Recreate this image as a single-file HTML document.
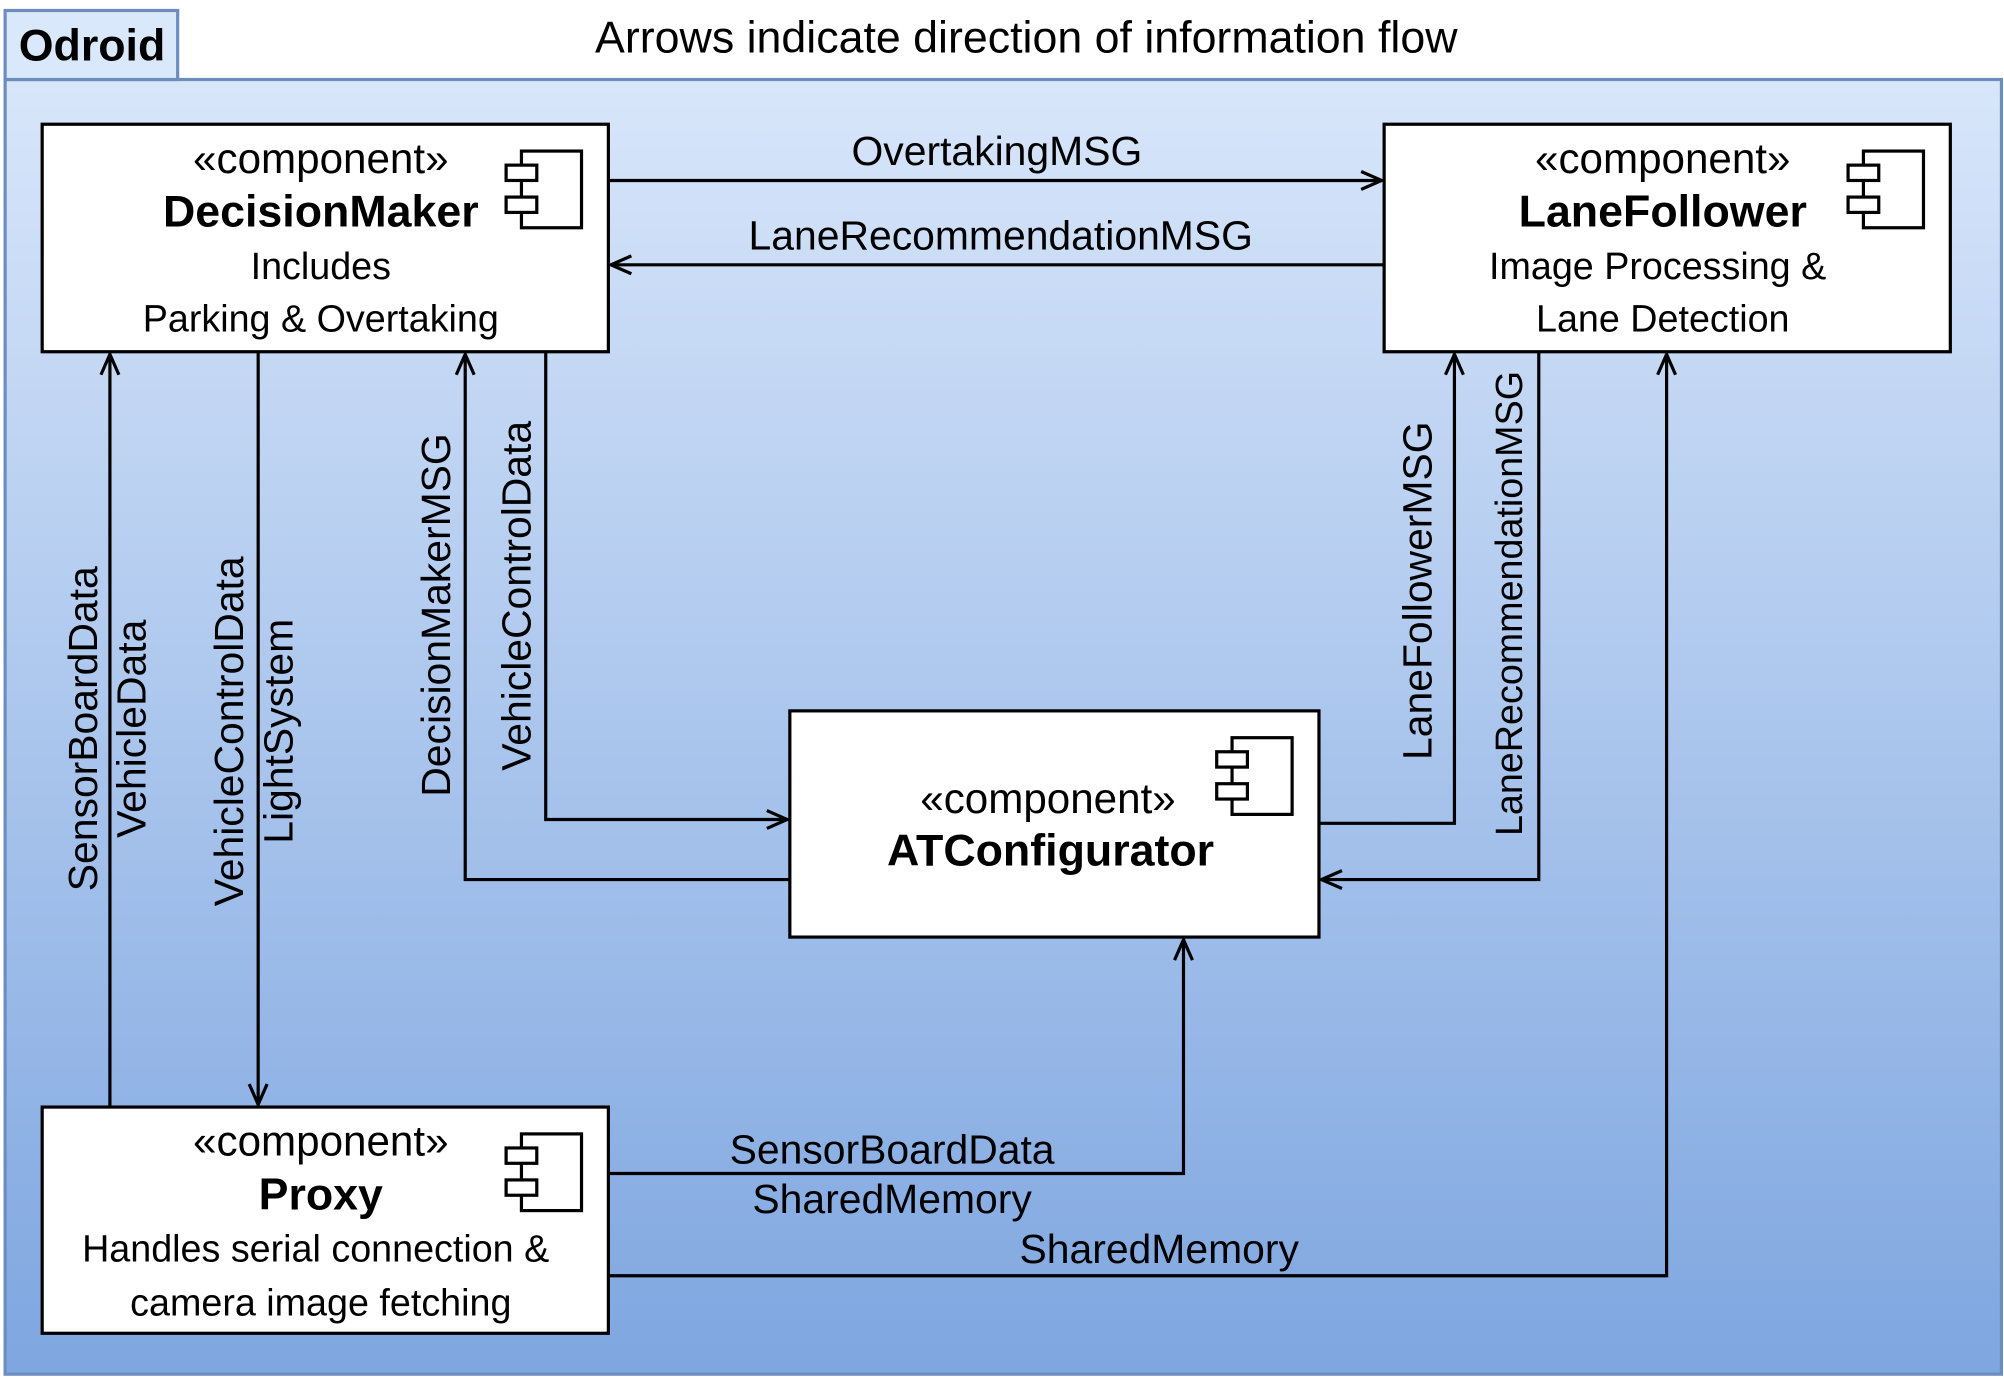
<!DOCTYPE html>
<html><head><meta charset="utf-8"><style>
html,body{margin:0;padding:0;background:#fff;}
svg{display:block;}
text{font-family:"Liberation Sans",sans-serif;fill:#000;}
</style></head><body>
<svg width="2004" height="1377" viewBox="0 0 1568 1077" xmlns="http://www.w3.org/2000/svg">
<defs>
<linearGradient id="g" x1="0" y1="0" x2="0" y2="1">
<stop offset="0" stop-color="#d8e6fa"/>
<stop offset="1" stop-color="#7ea6e0"/>
</linearGradient>
<marker id="a" markerWidth="20" markerHeight="20" refX="18" refY="10" orient="auto" markerUnits="userSpaceOnUse">
<path d="M2,3 L18,10 L2,17" fill="none" stroke="#000" stroke-width="2.5"/>
</marker>
<g id="ic">
<rect x="0" y="0" width="47" height="60" fill="#fff" stroke="#000" stroke-width="2.5"/>
<rect x="-12" y="11" width="24" height="12" fill="#fff" stroke="#000" stroke-width="2.5"/>
<rect x="-12" y="36" width="24" height="12" fill="#fff" stroke="#000" stroke-width="2.5"/>
</g>
</defs>
<rect x="4" y="62" width="1562" height="1013" fill="url(#g)" stroke="#6c8ebf" stroke-width="2.5"/>
<rect x="4" y="8" width="135" height="54" fill="#dae8fc" stroke="#6c8ebf" stroke-width="2.5"/>
<text x="72" y="47" font-size="35" font-weight="bold" text-anchor="middle">Odroid</text>
<text x="803" y="41" font-size="35" text-anchor="middle">Arrows indicate direction of information flow</text>

<g fill="none" stroke="#000" stroke-width="2.5">
<path d="M476,141 H1081" marker-end="url(#a)"/>
<path d="M1083,207 H478" marker-end="url(#a)"/>
<path d="M86,866 V277" marker-end="url(#a)"/>
<path d="M202,275 V864" marker-end="url(#a)"/>
<path d="M618,688 H364 V277" marker-end="url(#a)"/>
<path d="M427,275 V641 H616" marker-end="url(#a)"/>
<path d="M1032,644 H1138 V277" marker-end="url(#a)"/>
<path d="M1204,275 V688 H1034" marker-end="url(#a)"/>
<path d="M476,918 H926 V735" marker-end="url(#a)"/>
<path d="M476,998 H1304 V277" marker-end="url(#a)"/>
</g>

<g stroke="#000" stroke-width="2.5" fill="#fff">
<rect x="33" y="97" width="443" height="178"/>
<rect x="1083" y="97" width="443" height="178"/>
<rect x="618" y="556" width="414" height="177"/>
<rect x="33" y="866" width="443" height="177"/>
</g>
<use href="#ic" x="408" y="118"/>
<use href="#ic" x="1458" y="118"/>
<use href="#ic" x="964" y="577"/>
<use href="#ic" x="408" y="887"/>

<g font-size="32" text-anchor="middle">
<text x="251" y="135" font-size="33">«component»</text>
<text x="251" y="177" font-weight="bold" font-size="35">DecisionMaker</text>
<text x="251" y="218" font-size="29.5">Includes</text>
<text x="251" y="259" font-size="29.5">Parking &amp; Overtaking</text>

<text x="1301" y="135" font-size="33">«component»</text>
<text x="1301" y="177" font-weight="bold" font-size="35">LaneFollower</text>
<text x="1297" y="218" font-size="29.5">Image Processing &amp;</text>
<text x="1301" y="259" font-size="29.5">Lane Detection</text>

<text x="820" y="636" font-size="33">«component»</text>
<text x="822" y="677" font-weight="bold" font-size="35">ATConfigurator</text>

<text x="251" y="904" font-size="33">«component»</text>
<text x="251" y="946" font-weight="bold" font-size="35">Proxy</text>
<text x="247" y="987" font-size="29.5">Handles serial connection &amp;</text>
<text x="251" y="1029" font-size="29.5">camera image fetching</text>

<text x="780" y="129">OvertakingMSG</text>
<text x="783" y="195">LaneRecommendationMSG</text>
<text x="698" y="910">SensorBoardData</text>
<text x="698" y="949">SharedMemory</text>
<text x="907" y="988">SharedMemory</text>

<text transform="translate(76,570) rotate(-90)">SensorBoardData</text>
<text transform="translate(114,570) rotate(-90)">VehicleData</text>
<text transform="translate(190,572) rotate(-90)">VehicleControlData</text>
<text transform="translate(229,572) rotate(-90)">LightSystem</text>
<text transform="translate(352,481) rotate(-90)">DecisionMakerMSG</text>
<text transform="translate(415,466) rotate(-90)">VehicleControlData</text>
<text transform="translate(1120,462) rotate(-90)">LaneFollowerMSG</text>
<text transform="translate(1191,472) rotate(-90)" font-size="29.5">LaneRecommendationMSG</text>
</g>
</svg>
</body></html>
